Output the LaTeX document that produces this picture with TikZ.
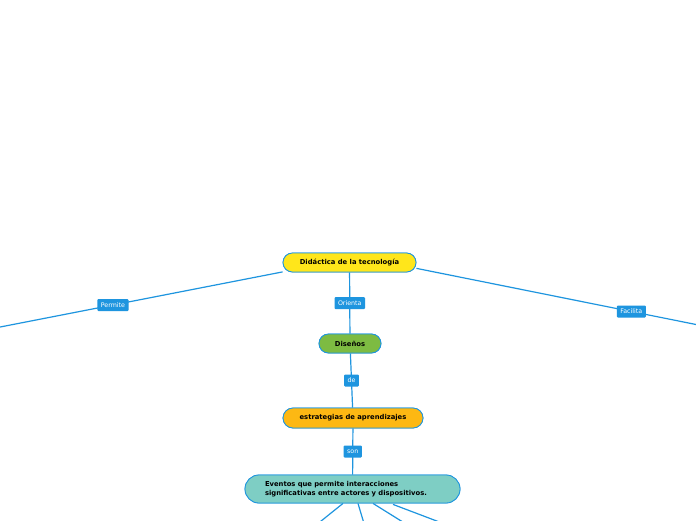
\documentclass[tikz,border=0pt]{standalone}
\usepackage{fontspec}
\setmainfont{DejaVu Sans}
\usetikzlibrary{calc}
\definecolor{lineblue}{HTML}{1E95DF}
\definecolor{cyellow}{HTML}{FFE61B}
\definecolor{cgreen}{HTML}{7DBB42}
\definecolor{corange}{HTML}{FDB813}
\definecolor{cteal}{HTML}{7ECEC4}
\tikzset{
  pill/.style={draw=lineblue, line width=0.8pt, rounded corners=#1, font=\fontsize{6.8}{8.6}\selectfont\bfseries, text=black, inner sep=0pt, align=center},
  conn/.style={draw=lineblue, line width=1.2pt},
  lab/.style={fill=lineblue, text=white, rounded corners=1pt, font=\fontsize{6.3}{7}\selectfont, inner xsep=3.5pt, minimum height=12pt, inner ysep=0pt}
}
\begin{document}
\begin{tikzpicture}[x=1pt,y=-1pt]
\useasboundingbox (0,0) rectangle (696,520);
\fill[white] (0,0) rectangle (696,520);
% nodes
\node[pill=9.5pt, fill=cyellow, minimum width=133pt, minimum height=19pt] (root) at (349.5,262.5) {Didáctica de la tecnología};
\node[pill=9.5pt, fill=cgreen, minimum width=62pt, minimum height=19pt] (dis) at (350,343.5) {Diseños};
\node[pill=10pt, fill=corange, minimum width=140pt, minimum height=20pt] (est) at (353,418) {estrategias de aprendizajes};
\node[pill=14pt, fill=cteal, text width=175pt, inner xsep=20pt, minimum height=28pt, align=left] (ev) at (352.5,489) {Eventos que permite interacciones\\significativas entre actores y dispositivos.};
% off-canvas ends
\coordinate (L) at (-5,328);
\coordinate (R) at (701,325.5);
\coordinate (c1) at (318,523.5);
\coordinate (c2) at (364,523.5);
\coordinate (c3) at (406,524);
\coordinate (c4) at (442,523);
% connectors
\draw[conn] (root.188) -- (L) node[lab, pos=0.59] (permite) {Permite};
\draw[conn] (root.-5) -- (R) node[lab, pos=0.755] (facilita) {Facilita};
\draw[conn] (root) -- (dis);
\draw[conn] (dis) -- (est);
\draw[conn] (est) -- (ev);
\draw[conn] ($(ev.south)+(-9.5,0)$) -- (c1);
\draw[conn] ($(ev.south)+(5.5,0)$) -- (c2);
\draw[conn] ($(ev.south)+(20.5,0)$) -- (c3);
\draw[conn] ($(ev.south)+(40.5,1)$) -- (c4);
% redraw nodes on top of the connectors
\node[pill=9.5pt, fill=cyellow, minimum width=133pt, minimum height=19pt] at (root) {Didáctica de la tecnología};
\node[pill=9.5pt, fill=cgreen, minimum width=62pt, minimum height=19pt] at (dis) {Diseños};
\node[pill=10pt, fill=corange, minimum width=140pt, minimum height=20pt] at (est) {estrategias de aprendizajes};
\node[pill=14pt, fill=cteal, text width=175pt, inner xsep=20pt, minimum height=28pt, align=left] at (ev) {Eventos que permite interacciones\\significativas entre actores y dispositivos.};
% link labels
\node[lab] (orienta) at ($(root.south)!0.5!(dis.north)$) {Orienta};
\node[lab] (de) at ($(dis.south)!0.5!(est.north)$) {de};
\node[lab] (son) at ($(est.south)!0.5!(ev.north)$) {son};
\end{tikzpicture}
\end{document}
